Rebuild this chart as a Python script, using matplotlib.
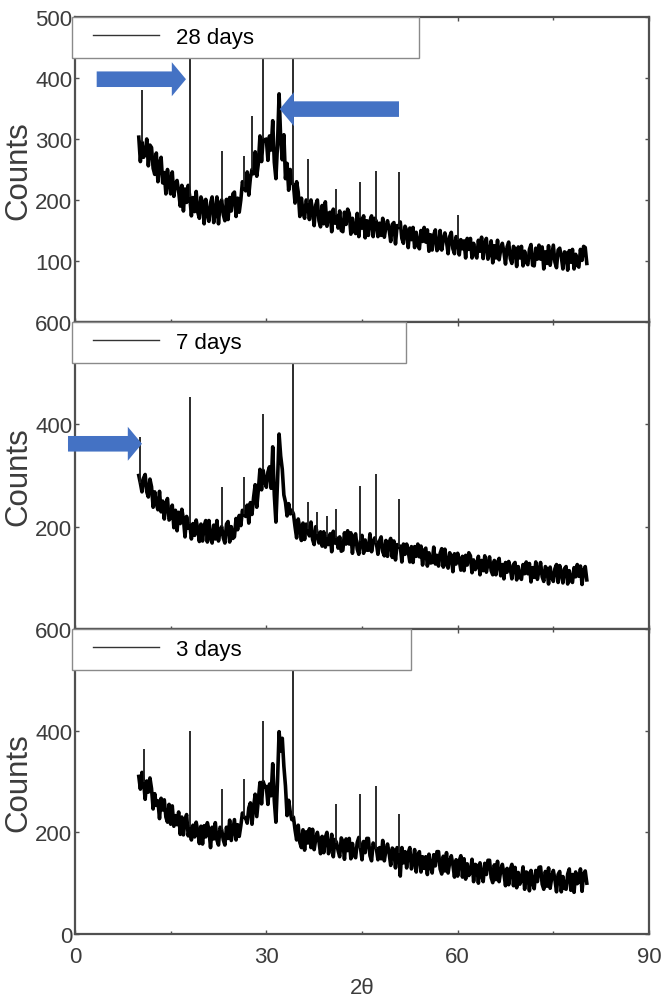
import numpy as np
import matplotlib
matplotlib.use("Agg")
import matplotlib.pyplot as plt
from matplotlib.ticker import MultipleLocator
from matplotlib.legend_handler import HandlerLine2D

# -----------------------------
# XRD scans: background counts on a 0.25 deg 2-theta grid starting at 10 deg,
# sharp reflections listed separately (2-theta, peak counts)
# -----------------------------
THETA_START = 10.0
THETA_STEP = 0.25

counts_28d = [
    303, 263, 295, 270, 275, 300, 256, 290, 286, 252, 242, 277, 230, 260, 270, 228,
    245, 210, 250, 227, 210, 246, 206, 227, 232, 214, 190, 224, 182, 218, 196, 224,
    205, 174, 204, 181, 214, 180, 170, 205, 196, 161, 201, 178, 165, 195, 205, 163,
    180, 205, 161, 195, 200, 176, 166, 201, 168, 204, 182, 210, 213, 173, 203, 180,
    200, 230, 222, 215, 246, 208, 236, 250, 243, 279, 239, 260, 305, 263, 300, 297,
    300, 265, 305, 282, 330, 262, 235, 290, 374, 300, 266, 307, 235, 260, 216, 250,
    228, 225, 195, 230, 213, 173, 203, 180, 170, 200, 195, 168, 200, 182, 158, 192,
    200, 166, 156, 191, 161, 197, 157, 178, 180, 148, 185, 162, 175, 154, 182, 150,
    148, 180, 160, 185, 178, 144, 170, 150, 145, 178, 140, 170, 154, 174, 138, 166,
    142, 166, 174, 140, 170, 165, 140, 162, 142, 170, 139, 156, 166, 152, 132, 160,
    163, 128, 158, 155, 164, 137, 129, 157, 150, 122, 154, 135, 155, 122, 147, 128,
    120, 150, 132, 155, 131, 151, 116, 143, 118, 143, 151, 117, 121, 150, 118, 135,
    146, 132, 112, 140, 147, 120, 112, 140, 135, 110, 135, 120, 133, 105, 137, 119,
    137, 105, 129, 111, 105, 134, 116, 139, 104, 129, 137, 103, 113, 133, 97, 125,
    105, 134, 102, 119, 129, 115, 95, 123, 131, 104, 96, 124, 119, 91, 123, 105,
    124, 92, 116, 98, 94, 119, 127, 93, 92, 121, 103, 126, 103, 123, 87, 115,
    96, 125, 93, 110, 126, 98, 89, 118, 121, 107, 87, 115, 113, 85, 117, 98,
    119, 87, 111, 93, 90, 119, 101, 124, 122, 96,
]
peaks_28d_pos = [10.5, 18.0, 23.0, 26.5, 27.75, 29.5, 34.25, 36.5, 41.0, 44.75, 47.25, 50.75, 60.0]
peaks_28d_cts = [380, 470, 280, 272, 338, 470, 480, 267, 218, 229, 248, 246, 175]

counts_7d = [
    300, 285, 268, 295, 302, 268, 258, 293, 278, 238, 268, 245, 233, 269, 229, 250,
    215, 245, 255, 213, 217, 242, 198, 232, 192, 228, 206, 234, 215, 180, 220, 197,
    205, 176, 206, 183, 213, 195, 171, 205, 172, 202, 212, 170, 212, 178, 168, 203,
    176, 212, 172, 193, 200, 178, 168, 205, 210, 170, 200, 177, 180, 216, 194, 222,
    202, 232, 225, 220, 242, 207, 247, 224, 257, 282, 238, 272, 312, 272, 310, 290,
    277, 307, 317, 275, 356, 262, 209, 286, 381, 338, 312, 262, 248, 221, 245, 225,
    232, 225, 200, 178, 215, 197, 173, 207, 175, 205, 195, 182, 209, 175, 165, 200,
    185, 168, 190, 162, 190, 160, 180, 165, 186, 151, 191, 168, 178, 158, 180, 152,
    154, 188, 166, 192, 166, 188, 148, 180, 186, 156, 146, 172, 183, 148, 174, 154,
    154, 186, 151, 170, 178, 168, 146, 172, 180, 151, 143, 173, 142, 169, 177, 140,
    172, 135, 165, 160, 162, 131, 166, 146, 166, 152, 131, 161, 130, 161, 142, 166,
    141, 162, 125, 154, 158, 123, 149, 129, 130, 160, 127, 144, 123, 148, 157, 121,
    156, 127, 119, 149, 143, 112, 147, 127, 148, 134, 115, 142, 114, 144, 125, 149,
    143, 110, 135, 116, 122, 142, 106, 134, 114, 143, 111, 128, 141, 114, 106, 134,
    106, 130, 138, 104, 126, 98, 130, 111, 132, 118, 98, 126, 130, 96, 122, 103,
    97, 126, 108, 131, 108, 128, 92, 120, 101, 131, 97, 115, 130, 102, 93, 122,
    117, 88, 121, 102, 93, 118, 126, 91, 124, 110, 90, 118, 122, 88, 114, 95,
    91, 120, 102, 126, 103, 123, 87, 115, 122, 96,
]
peaks_7d_pos = [10.25, 18.0, 23.0, 26.5, 29.5, 34.25, 36.5, 38.0, 39.5, 41.0, 44.75, 47.25, 50.75]
peaks_7d_cts = [375, 453, 277, 297, 420, 560, 248, 228, 221, 234, 280, 303, 254]

counts_3d = [
    310, 285, 318, 300, 265, 301, 279, 307, 286, 246, 276, 253, 262, 227, 267, 244,
    264, 230, 220, 255, 216, 252, 212, 233, 215, 240, 196, 230, 195, 225, 235, 193,
    210, 185, 214, 191, 220, 202, 178, 212, 177, 213, 191, 219, 205, 170, 210, 187,
    219, 185, 175, 210, 205, 185, 175, 210, 188, 224, 184, 205, 225, 185, 215, 192,
    213, 238, 230, 228, 218, 248, 258, 216, 250, 275, 231, 265, 298, 256, 300, 290,
    290, 255, 295, 272, 335, 262, 220, 300, 398, 360, 385, 330, 291, 233, 263, 240,
    225, 230, 205, 185, 214, 180, 170, 205, 165, 201, 179, 207, 170, 206, 166, 187,
    200, 182, 158, 192, 160, 190, 200, 158, 171, 196, 152, 186, 180, 164, 152, 189,
    182, 147, 187, 164, 188, 148, 178, 155, 150, 180, 190, 170, 146, 182, 160, 188,
    188, 154, 144, 179, 172, 168, 146, 170, 148, 184, 144, 165, 177, 159, 135, 169,
    165, 130, 170, 160, 114, 170, 140, 162, 130, 160, 170, 128, 141, 166, 122, 156,
    162, 122, 152, 129, 152, 117, 157, 134, 120, 156, 134, 162, 162, 128, 118, 153,
    124, 160, 120, 141, 154, 136, 112, 146, 114, 144, 154, 112, 148, 108, 138, 115,
    122, 147, 103, 137, 135, 100, 140, 117, 103, 139, 117, 145, 145, 111, 101, 136,
    107, 143, 103, 124, 137, 119, 95, 129, 97, 127, 137, 95, 131, 91, 121, 98,
    107, 132, 88, 122, 120, 85, 125, 102, 89, 125, 103, 131, 132, 98, 88, 123,
    94, 130, 90, 111, 125, 107, 83, 117, 123, 83, 113, 90, 88, 118, 128, 86,
    117, 82, 122, 99, 103, 128, 84, 118, 124, 100,
]
peaks_3d_pos = [10.75, 18.0, 23.0, 26.5, 29.5, 34.25, 41.0, 44.75, 47.25, 50.75]
peaks_3d_cts = [364, 400, 285, 305, 419, 560, 256, 275, 291, 236]

labels = ["28 days", "7 days", "3 days"]
series = [counts_28d, counts_7d, counts_3d]
peak_pos = [peaks_28d_pos, peaks_7d_pos, peaks_3d_pos]
peak_cts = [peaks_28d_cts, peaks_7d_cts, peaks_3d_cts]
y_tops = [500, 600, 600]
y_ticks = [[100, 200, 300, 400, 500], [200, 400, 600], [0, 200, 400, 600]]
legend_widths = [0.605, 0.582, 0.592]

x_ticks = [0, 30, 60, 90]

# arrows marking reflections: (panel, tail 2theta, tip 2theta, counts)
arrows = [
    (0, 3.4, 17.4, 398),
    (0, 50.8, 32.1, 349),
    (1, -1.1, 10.5, 362),
]

TICK_GRAY = "#3c3c3c"
SPINE_GRAY = "#505050"
ARROW_BLUE = "#4472C4"

plt.rcParams["font.family"] = ["Liberation Sans", "DejaVu Sans"]

fig = plt.figure(figsize=(6.62, 10.04), dpi=100)

left, width = 75 / 662, 574 / 662
panel_px = [(18, 323), (323, 630), (630, 935)]

axes = []
for i, (top_px, bot_px) in enumerate(panel_px):
    ax = fig.add_axes([left, 1 - bot_px / 1004, width, (bot_px - top_px) / 1004])
    axes.append(ax)

    y = np.asarray(series[i], dtype=float)
    theta = THETA_START + THETA_STEP * np.arange(len(y))
    line, = ax.plot(theta, y, color="black", lw=2.6, label=labels[i], zorder=2)

    # sharp reflections rise from the background at their grid position
    pos = np.asarray(peak_pos[i])
    idx = np.rint((pos - THETA_START) / THETA_STEP).astype(int)
    ax.vlines(pos, y[idx], peak_cts[i], color="#1a1a1a", lw=1.3, zorder=2)

    ax.set_xlim(0, 90)
    ax.set_ylim(0, y_tops[i])
    ax.set_yticks(y_ticks[i])
    ax.set_xticks(x_ticks)
    ax.xaxis.set_minor_locator(MultipleLocator(15))

    ax.tick_params(axis="both", which="both", direction="in", top=True, right=True,
                   color=SPINE_GRAY, labelcolor=TICK_GRAY, labelsize=16)
    ax.tick_params(axis="both", which="major", length=3, width=1)
    ax.tick_params(axis="both", which="minor", length=2, width=1)
    ax.tick_params(axis="y", pad=2)
    ax.tick_params(axis="x", pad=9)
    if i < 2:
        ax.tick_params(axis="x", labelbottom=False)

    for s in ax.spines.values():
        s.set_color(SPINE_GRAY)
        s.set_linewidth(1.6)

    ax.set_ylabel("Counts", fontsize=22.5, color=TICK_GRAY)
    ax.yaxis.set_label_coords(-0.073, 0.5)

    leg = ax.legend(loc="upper left", bbox_to_anchor=(-0.006, 1.0, legend_widths[i], 0),
                    mode="expand", frameon=True, fancybox=False, framealpha=1,
                    edgecolor="#8a8a8a", handlelength=3.5, handletextpad=0.75,
                    borderpad=0.45, borderaxespad=0,
                    handler_map={line: HandlerLine2D(xpad=0.5)},
                    prop={"family": ["Liberation Sans Narrow", "Liberation Sans"],
                          "size": 16})
    leg.get_frame().set_linewidth(1.0)
    for h in leg.get_lines():
        h.set_linewidth(1.0)
        h.set_color("#333333")
    leg.set_zorder(5)

axes[2].set_xlabel("2\u03b8", fontsize=16, color=TICK_GRAY, labelpad=7)

for panel, x0, x1, yv in arrows:
    axes[panel].annotate(
        "", xy=(x1, yv), xytext=(x0, yv), xycoords="data", textcoords="data",
        arrowprops=dict(arrowstyle="simple,head_length=0.3,head_width=0.72,tail_width=0.33",
                        mutation_scale=34, color=ARROW_BLUE, shrinkA=0, shrinkB=0, lw=0),
        annotation_clip=False, zorder=6,
    )

fig.savefig("out.png", dpi=100)
